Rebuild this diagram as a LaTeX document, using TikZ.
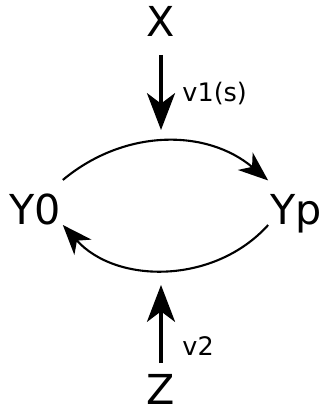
\documentclass[tikz,border=0pt]{standalone}
\usepackage{fontspec}
\setmainfont{DejaVu Sans}
\usetikzlibrary{arrows.meta}

\begin{document}
\begin{tikzpicture}[x=0.02cm, y=0.02cm,
    var/.style={anchor=base, inner sep=1pt, font=\fontsize{23.5}{28}\selectfont},
    rate/.style={font=\fontsize{14.5}{17}\selectfont},
    feed/.style={line width=1.8pt, -{Stealth[length=21pt, width=16pt, inset=6pt]}},
    cycle/.style={line width=1.2pt, -{Stealth[length=17pt, width=13pt, inset=5pt]}}]
  \useasboundingbox (0,0) rectangle (323,411);
  % species
  \node[var] (X) at (161,374) {X};
  \node[var] (Y0) at (35,186) {Y0};
  \node[var] (Yp) at (296,186) {Yp};
  \node[var] (Z) at (161,7) {Z};
  % free ends of the feeding arrows
  \coordinate (v1tip) at (161,281);
  \coordinate (v2tip) at (161,126);
  % cycle
  \draw[cycle] ([yshift=7pt]Y0.north east) to[bend left=40] ([yshift=7pt]Yp.north west);
  \draw[cycle] (Yp.base west) to[bend left=48] (Y0.base east);
  % inputs
  \draw[feed, shorten <=9pt] (X) -- node[rate, right=8pt, pos=0.6] {v1(s)} (v1tip);
  \draw[feed, shorten <=5pt] (Z) -- node[rate, right=8pt, pos=0.3] {v2} (v2tip);
\end{tikzpicture}
\end{document}
